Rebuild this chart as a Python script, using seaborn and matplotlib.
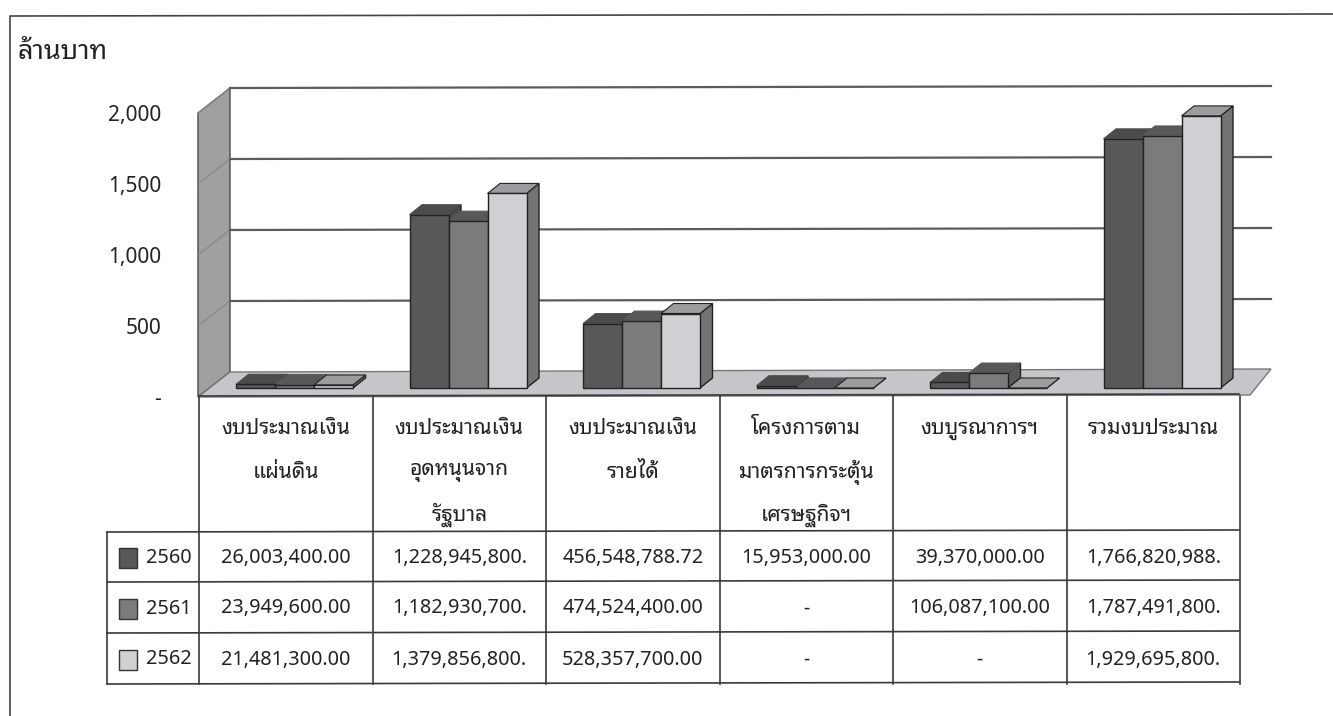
import matplotlib
matplotlib.use("Agg")
import matplotlib.pyplot as plt
from matplotlib import font_manager
from matplotlib.patches import Polygon, Rectangle
from matplotlib.ticker import FuncFormatter
import pandas as pd
import seaborn as sns

categories = [
    ["งบประมาณเงิน", "แผ่นดิน"],
    ["งบประมาณเงิน", "อุดหนุนจาก", "รัฐบาล"],
    ["งบประมาณเงิน", "รายได้"],
    ["โครงการตาม", "มาตรการกระตุ้น", "เศรษฐกิจฯ"],
    ["งบบูรณาการฯ"],
    ["รวมงบประมาณ"],
]
years = ["2560", "2561", "2562"]
baht_2560 = [26003400.00, 1228945800.00, 456548788.72, 15953000.00, 39370000.00, 1766820988.00]
baht_2561 = [23949600.00, 1182930700.00, 474524400.00, 0, 106087100.00, 1787491800.00]
baht_2562 = [21481300.00, 1379856800.00, 528357700.00, 0, 0, 1929695800.00]
yticks = [0, 500, 1000, 1500, 2000]

front_colors = ["#585858", "#7b7b7b", "#d0d0d4"]
top_colors = ["#4b4b4b", "#585858", "#9c9c9f"]
side_colors = ["#4b4b4b", "#585858", "#747474"]

thai_family = ["Noto Sans Thai Looped", "Noto Sans Thai", "Loma", "Noto Sans", "DejaVu Sans"]
num_family = ["Noto Sans", "DejaVu Sans"]
installed = {f.name for f in font_manager.fontManager.ttflist}
thai_family = [f for f in thai_family if f in installed]
num_family = [f for f in num_family if f in installed]
plt.rcParams["font.family"] = num_family

W, H = 1333, 716
fig = plt.figure(figsize=(W / 100, H / 100), dpi=100)


def box(left, top, right, bottom):
    return [left / W, 1 - bottom / H, (right - left) / W, (bottom - top) / H]


# pixel layer for frame, walls and table
bg = fig.add_axes([0, 0, 1, 1], zorder=0)
bg.set_xlim(0, W)
bg.set_ylim(H, 0)
bg.axis("off")

line_c = "#3a3a3a"
grid_c = "#5c5c5c"
bg.plot([10, 10, W], [716, 16, 14], color="#444444", lw=1.2)

px_per_m = 0.142
back_y = lambda v: 372 - v * px_per_m
front_y = lambda v: 397 - v * px_per_m

# left wall and floor
bg.add_patch(Polygon([(198, front_y(2000)), (230, back_y(2000)), (230, 372), (198, 397)],
                     fc="#a0a0a2", ec="#4a4a4a", lw=1))
bg.add_patch(Polygon([(198, 397), (230, 372), (1271, 369), (1250, 395)],
                     fc="#c6c6ca", ec="#777777", lw=1))
for v in yticks[1:]:
    bg.plot([198, 230], [front_y(v), back_y(v)], color="#8a8a8a", lw=1)
    bg.plot([230, 1271], [back_y(v), back_y(v) - 2], color=grid_c, lw=1.6)

# bars
df = pd.DataFrame({
    "cat": [" ".join(c) for c in categories] * 3,
    "year": [y for y in years for _ in categories],
    "million": [v / 1e6 for v in baht_2560 + baht_2561 + baht_2562],
})
cat_step = 173.5
first_x = 294.5
base_y = 388
bar_scale = 0.141
ax = fig.add_axes(box(198, 87, 1271, 397), zorder=3)
ax.patch.set_alpha(0)
sns.barplot(data=df, x="cat", y="million", hue="year", palette=front_colors, width=117 / cat_step,
            gap=0, legend=False, edgecolor="#222222", linewidth=1, saturation=1, errorbar=None, ax=ax, zorder=5)
ax.set_xlim((198 - first_x) / cat_step, (1271 - first_x) / cat_step)
ax.set_ylim((base_y - 397) / bar_scale, (base_y - 87) / bar_scale)
ax.axis("off")

depth_x = 12.5 / cat_step
depth_y = 10 / bar_scale
for k, cont in enumerate(ax.containers):
    edge = "#222222" if k == 2 else top_colors[k]
    for bar in cont:
        x0, x1 = bar.get_x(), bar.get_x() + bar.get_width()
        h = bar.get_height()
        ax.add_patch(Polygon([(x1, 0), (x1 + depth_x, depth_y), (x1 + depth_x, h + depth_y), (x1, h)],
                             fc=side_colors[k], ec="#222222", lw=1, zorder=2))
        ax.add_patch(Polygon([(x0, h), (x0 + depth_x, h + depth_y), (x1 + depth_x, h + depth_y), (x1, h)],
                             fc=top_colors[k], ec=edge, lw=0.8, zorder=2))

# value axis labels
tick_ax = fig.add_axes(box(198, 87, 1271, 397), zorder=1)
tick_ax.patch.set_alpha(0)
tick_ax.set_xlim(0, 1)
tick_ax.set_ylim(0, 310 / px_per_m)
tick_ax.set_xticks([])
tick_ax.set_yticks(yticks)
tick_ax.yaxis.set_major_formatter(FuncFormatter(lambda v, p: f"{v:,.0f}" if v else "-"))
tick_ax.tick_params(axis="y", length=0, pad=26.5, labelsize=15, labelcolor="#222222")
sns.despine(ax=tick_ax, left=True, bottom=True)

bg.text(17, 52, "ล้านบาท", fontsize=19.5, va="center", ha="left", color="#222222", family=thai_family)

# data table
col_x = [199 + cat_step * i for i in range(7)]
row_y = [396, 532, 582, 633, 684]
table_left = 107
for x in col_x:
    bg.plot([x, x], [396, 684], color=line_c, lw=1.2)
for y in row_y[1:]:
    bg.plot([table_left, 1239], [y, y - 2], color=line_c, lw=1.2)
bg.plot([table_left, table_left], [532, 684], color=line_c, lw=1.2)
bg.plot([199, 1239], [396, 394], color=line_c, lw=1.2)

header_y = [429, 472, 515]
for i, lines in enumerate(categories):
    cx = col_x[i] + cat_step / 2
    for j, s in enumerate(lines):
        bg.text(cx, header_y[j], s, ha="center", va="center", fontsize=15.2, color="#222222", family=thai_family)


def cell(v):
    return f"{v:,.2f}"[:14] if v else "-"


for r, (year, vals) in enumerate(zip(years, [baht_2560, baht_2561, baht_2562])):
    yc = (row_y[r + 1] + row_y[r + 2]) / 2 + 1
    bg.add_patch(Rectangle((119, yc - 10), 18, 20, fc=front_colors[r], ec="#333333", lw=1))
    bg.text(146, yc, year, ha="left", va="center", fontsize=14.3, color="#222222")
    for i, v in enumerate(vals):
        bg.text(col_x[i] + cat_step / 2, yc, cell(v), ha="center", va="center", fontsize=14.3, color="#222222")

fig.savefig("out.png", dpi=100)
